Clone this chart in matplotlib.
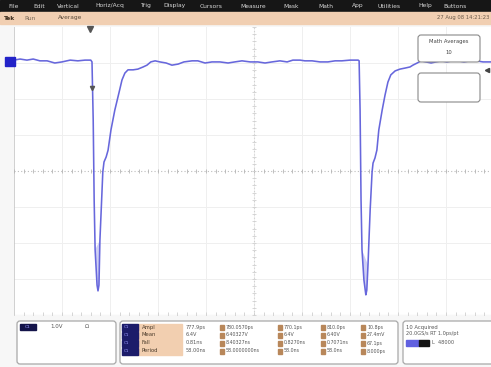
import numpy as np
import matplotlib
matplotlib.use("Agg")
import matplotlib.pyplot as plt
from matplotlib.patches import Rectangle, FancyBboxPatch

# ---------------- data ----------------
# time in horizontal divisions, voltage in vertical divisions (1.0 V/div)
t_div = [0.0, 0.125, 0.27, 0.40, 0.54, 0.69, 0.85, 1.0, 1.17, 1.33, 1.48, 1.60,
         1.625, 1.65, 1.67, 1.69, 1.73, 1.75, 1.77, 1.79, 1.83, 1.85, 1.875, 1.92,
         1.96, 2.02, 2.10, 2.19, 2.25, 2.31, 2.375, 2.48, 2.58, 2.69, 2.77, 2.85,
         2.94, 3.04, 3.17, 3.29, 3.42, 3.54, 3.71, 3.83, 3.98, 4.125, 4.29, 4.46,
         4.60, 4.75, 4.92, 5.08, 5.23, 5.375, 5.54, 5.69, 5.81, 5.96, 6.06, 6.21,
         6.375, 6.54, 6.69, 6.83, 7.0, 7.17, 7.19, 7.21, 7.23, 7.25, 7.29, 7.33,
         7.35, 7.375, 7.42, 7.46, 7.48, 7.52, 7.56, 7.60, 7.67, 7.73, 7.79, 7.85,
         7.94, 8.04, 8.15, 8.25, 8.31, 8.40, 8.48, 8.58, 8.69, 8.79, 8.90, 9.02,
         9.125, 9.25, 9.375, 9.50, 9.625, 9.77, 9.94]
v_div = [3.08, 3.11, 3.08, 3.11, 3.06, 3.06, 3.00, 3.03, 3.08, 3.06, 3.08, 3.08,
         3.03, 1.42, -0.81, -2.19, -3.17, -3.33, -3.17, -1.92, -0.67, -0.03, 0.25, 0.39,
         0.58, 1.14, 1.69, 2.19, 2.53, 2.72, 2.81, 2.81, 2.83, 2.89, 2.94, 3.03,
         3.06, 3.03, 3.00, 2.94, 2.97, 3.03, 3.06, 3.06, 3.00, 3.03, 3.03, 3.00,
         3.03, 3.06, 3.03, 3.03, 3.00, 3.03, 3.06, 3.03, 3.08, 3.08, 3.06, 3.06,
         3.03, 3.03, 3.06, 3.06, 3.08, 3.08, 3.06, 1.69, -0.81, -2.19, -3.03, -3.44,
         -3.31, -2.61, -1.08, -0.03, 0.22, 0.36, 0.58, 1.14, 1.69, 2.11, 2.47, 2.67,
         2.78, 2.83, 2.86, 2.89, 2.94, 3.00, 3.06, 3.03, 3.00, 3.03, 3.06, 3.03,
         3.06, 3.06, 3.03, 3.06, 3.06, 3.03, 3.03]

menu_items = ["File", "Edit", "Vertical", "Horiz/Acq", "Trig", "Display", "Cursors",
              "Measure", "Mask", "Math", "App", "Utilities", "Help", "Buttons"]
menu_x = [8, 33, 57, 95, 140, 163, 200, 240, 283, 318, 352, 378, 418, 443]

meas_names = ["Ampl", "Mean", "Fall", "Period"]
meas_value = ["777.9ps", "6.4V", "0.81ns", "58.00ns"]
meas_mean = ["780.0570ps", "6.40327V", "8.40327ns", "58.0000000ns"]
meas_min = ["770.1ps", "6.4V", "0.8270ns", "58.0ns"]
meas_max = ["810.0ps", "6.40V", "0.7071ns", "58.0ns"]
meas_std = ["10.8ps", "27.4mV", "67.1ps", "8.000ps"]

# ---------------- figure ----------------
W, H = 491, 367
fig = plt.figure(figsize=(W / 100, H / 100), dpi=100)
fig.patch.set_facecolor("#f7f7f7")
plt.rcParams['font.family'] = ['DejaVu Sans']

# main scope axes (pixel geometry: left 14, right 491, top 27, bottom 315)
ax = fig.add_axes([14 / W, 1 - 315 / H, 477 / W, 288 / H])
ax.set_facecolor("white")
ax.set_xlim(0, 477 / 48)
ax.set_ylim(-4, 4)
for s in ax.spines.values():
    s.set_visible(False)
ax.set_xticks([]); ax.set_yticks([])

grid_c = "#efefef"
for i in range(1, 10):
    ax.axvline(i, color=grid_c, lw=0.7, zorder=1)
for j in (-3, -2, -1, 1, 2, 3):
    ax.axhline(j, color=grid_c, lw=0.7, zorder=1)
ax.axvline(0, color="#c8c8c8", lw=1.2, zorder=2)
ax.axhline(-4, color="#d8d8d8", lw=0.8, zorder=2)
# center lines with minor ticks
ax.axhline(0, color="#bdbdbd", lw=0.8, ls=(0, (1, 2)), zorder=2)
ax.axvline(5, color="#d0d0d0", lw=0.8, ls=(0, (1, 2)), zorder=2)
mt = np.arange(0, 10.01, 0.2)
ax.plot(mt, np.zeros_like(mt), ls="none", marker="|", ms=3, mew=0.6, color="#b5b5b5", zorder=2)
ax.plot(mt, np.full_like(mt, -3.97), ls="none", marker="|", ms=3, mew=0.6, color="#cfcfcf", zorder=2)
mv = np.arange(-4, 4.01, 0.2)
ax.plot(np.full_like(mv, 5), mv, ls="none", marker="_", ms=3, mew=0.6, color="#d0d0d0", zorder=2)

t = np.array(t_div); v = np.array(v_div)
trace_c = "#6767dc"
# light envelope near the bottom of each pulse
for lo, hi in ((15, 20), (69, 74)):
    sel = slice(lo, hi)
    ax.fill(t[sel], v[sel], color="#cbcbf3", alpha=0.9, lw=0, zorder=3)
ax.plot(t, v, color=trace_c, lw=1.15, zorder=4)

# markers on the axes
ax.plot([1.58], [3.95], marker="v", ms=4, color="#555555", clip_on=False, zorder=5)
ax.plot([1.63], [2.3], marker="v", ms=3, color="#555555", zorder=5)

# ---------------- overlay in pixel coordinates ----------------
ov = fig.add_axes([0, 0, 1, 1], facecolor="none")
ov.set_xlim(0, W); ov.set_ylim(H, 0); ov.axis("off")

# menu bar
ov.add_patch(Rectangle((0, 0), W, 12, color="#161616", zorder=1))
for name, x in zip(menu_items, menu_x):
    ov.text(x, 6, name, color="#d8d8d8", fontsize=4.3, va="center", ha="left", zorder=2)
# status bar
ov.add_patch(Rectangle((0, 12), W, 12, color="#f1cfb2", zorder=1))
ov.text(4, 18, "Tek", color="#3a2a1a", fontsize=4.2, va="center", weight="bold")
ov.text(24, 18, "Run", color="#7a6a5a", fontsize=4.2, va="center")
ov.text(58, 18, "Average", color="#5a4a3a", fontsize=4.2, va="center")
ov.text(489, 18, "27 Aug 08 14:21:23", color="#6a5a4a", fontsize=3.8, va="center", ha="right")

# channel ground indicator
ov.add_patch(Rectangle((5, 57), 10, 9, color="#2323c8", zorder=5))
# right-side marker
ov.plot([487], [70], marker="<", ms=3, color="#444444", zorder=6)

# math boxes in graticule
ov.add_patch(FancyBboxPatch((418, 35), 62, 27, boxstyle="round,pad=0,rounding_size=3",
                            fc="white", ec="#8a8a8a", lw=0.8, zorder=5))
ov.text(449, 42, "Math Averages", fontsize=3.8, ha="center", va="center", color="#444444", zorder=6)
ov.text(449, 53, "10", fontsize=3.8, ha="center", va="center", color="#444444", zorder=6)
ov.add_patch(FancyBboxPatch((418, 73), 62, 29, boxstyle="round,pad=0,rounding_size=3",
                            fc="white", ec="#8a8a8a", lw=0.8, zorder=5))

# bottom panels
def panel(x0, x1):
    ov.add_patch(FancyBboxPatch((x0, 321), x1 - x0, 43, boxstyle="round,pad=0,rounding_size=3",
                                fc="white", ec="#a8a8a8", lw=0.9, zorder=2))

panel(17, 116)
panel(120, 398)
panel(403, 494)

# panel 1: channel readout
ov.add_patch(Rectangle((20, 324), 16, 6, color="#14144a", zorder=3))
ov.text(28, 327, "C1", fontsize=3.2, color="#9b9bff", ha="center", va="center", zorder=4)
ov.text(50, 327, "1.0V", fontsize=4, color="#555555", va="center", zorder=4)
ov.text(85, 327, "Ω", fontsize=4, color="#555555", va="center", zorder=4)

# panel 2: measurement table
rows_y = [327, 335, 343, 351]
ov.add_patch(Rectangle((138, 323.5), 44, 31, color="#f2cfb0", zorder=3))
for k, y in enumerate(rows_y):
    ov.add_patch(Rectangle((122, y - 3), 16, 6.5, color="#1c1c6a", zorder=3))
    ov.text(124, y, "C1", fontsize=3, color="#9b9bff", va="center", zorder=4)
    ov.text(142, y, meas_names[k], fontsize=3.8, color="#4a3a2a", va="center", zorder=4)
    ov.text(186, y, meas_value[k], fontsize=3.6, color="#555555", va="center", zorder=4)
    cols = [(220, meas_mean[k]), (278, meas_min[k]), (321, meas_max[k]), (361, meas_std[k])]
    for cx, txt in cols:
        ov.add_patch(Rectangle((cx, y - 2.5), 4, 5, color="#b8875a", zorder=3))
        ov.text(cx + 6, y, txt, fontsize=3.4, color="#555555", va="center", zorder=4)

# panel 3: acquisition info
ov.text(406, 327, "10 Acquired", fontsize=3.8, color="#555555", va="center", zorder=4)
ov.text(406, 334, "20.0GS/s RT 1.0ps/pt", fontsize=3.6, color="#555555", va="center", zorder=4)
ov.add_patch(Rectangle((406, 340), 13, 6, color="#6060e0", zorder=3))
ov.add_patch(Rectangle((419, 340), 10, 6, color="#141414", zorder=3))
ov.text(432, 343, "L  48000", fontsize=3.6, color="#555555", va="center", zorder=4)

fig.savefig("out.png", dpi=100, facecolor=fig.get_facecolor())
